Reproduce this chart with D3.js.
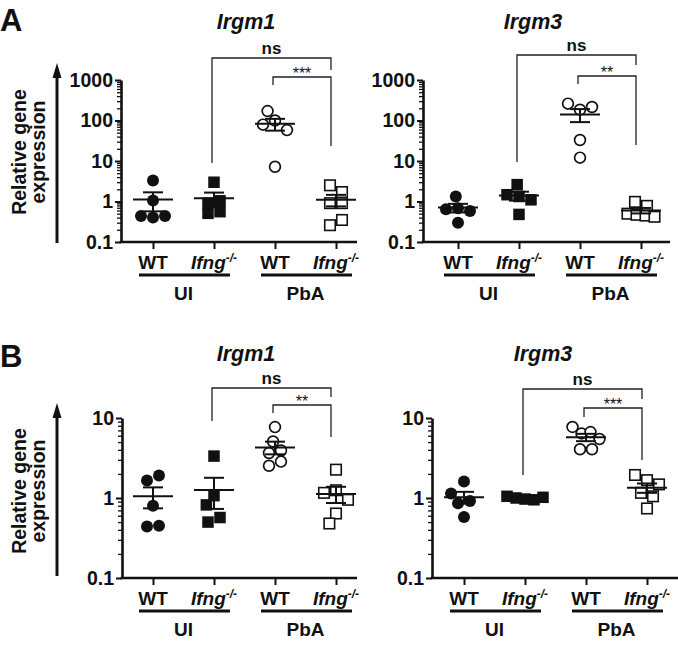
<!DOCTYPE html>
<html><head><meta charset="utf-8">
<script src="https://cdn.jsdelivr.net/npm/d3@7"></script>
<style>
body{margin:0;background:#fff;}
svg{display:block;}
text{font-family:"Liberation Sans",Arial,sans-serif;fill:#111;}
</style>
</head><body>
<svg id="chart" width="678" height="647"></svg>
<script>
// ---------------- DATA ----------------
const groupKeys = ["WT_UI", "Ifng_UI", "WT_PbA", "Ifng_PbA"];
const genotypeLabels = ["WT", "Ifng", "WT", "Ifng"];
const knockoutSuffix = "-/-";
const conditionLabels = ["UI", "PbA"];
const panelLetters = ["A", "B"];
const geneTitles = ["Irgm1", "Irgm3"];
const yLabelLines = ["Relative gene", "expression"];
const yTicksA = [0.1, 1, 10, 100, 1000];
const yTickLabelsA = ["0.1", "1", "10", "100", "1000"];
const yTicksB = [0.1, 1, 10];
const yTickLabelsB = ["0.1", "1", "10"];

const A_Irgm1_WT_UI   = [3.3, 1.06, 0.44, 0.40, 0.44];
const A_Irgm1_Ifng_UI = [2.99, 0.91, 1.04, 0.51, 0.56];
const A_Irgm1_WT_PbA  = [171, 79, 100, 58, 7.2];
const A_Irgm1_Ifng_PbA= [2.51, 1.71, 0.91, 0.91, 0.26, 0.35];
const A_Irgm3_WT_UI   = [1.33, 0.64, 0.68, 0.58, 0.30];
const A_Irgm3_Ifng_UI = [2.61, 1.47, 1.33, 1.10, 0.48];
const A_Irgm3_WT_PbA  = [261, 185, 215, 33, 12.1];
const A_Irgm3_Ifng_PbA= [0.98, 0.78, 0.50, 0.47, 0.45, 0.42];
const B_Irgm1_WT_UI   = [1.65, 1.91, 0.80, 0.44, 0.45];
const B_Irgm1_Ifng_UI = [3.34, 1.07, 0.82, 0.50, 0.57];
const B_Irgm1_WT_PbA  = [7.7, 5.08, 3.65, 3.92, 2.53, 2.85];
const B_Irgm1_Ifng_PbA= [2.26, 1.16, 1.25, 0.95, 0.64, 0.48];
const B_Irgm3_WT_UI   = [1.61, 1.14, 0.86, 0.92, 0.58];
const B_Irgm3_Ifng_UI = [1.05, 1.0, 0.97, 0.95, 1.02];
const B_Irgm3_WT_PbA  = [7.73, 6.41, 6.67, 5.47, 4.07, 4.07];
const B_Irgm3_Ifng_PbA= [1.94, 1.67, 1.48, 1.16, 1.05, 0.74];

const stats_A_Irgm1 = ["ns", "***"];
const stats_A_Irgm3 = ["ns", "**"];
const stats_B_Irgm1 = ["ns", "**"];
const stats_B_Irgm3 = ["ns", "***"];

// ---------------- LAYOUT ----------------
const svg = d3.select("#chart");
const STEP = 61;
const SEP = 12;

const panels = [
  {title: geneTitles[0], titleX: 246, titleY: 29,
   data: [A_Irgm1_WT_UI, A_Irgm1_Ifng_UI, A_Irgm1_WT_PbA, A_Irgm1_Ifng_PbA],
   yTicks: yTicksA, yTickLabels: yTickLabelsA, yRange: [242, 80],
   axisX: 121, xEnd: 357, x0: 153, stats: stats_A_Irgm1,
   br: [{top: 58, le: 163, re: 70}, {top: 77, le: 85, re: 146}]},
  {title: geneTitles[1], titleX: 533, titleY: 29,
   data: [A_Irgm3_WT_UI, A_Irgm3_Ifng_UI, A_Irgm3_WT_PbA, A_Irgm3_Ifng_PbA],
   yTicks: yTicksA, yTickLabels: yTickLabelsA, yRange: [242, 80],
   axisX: 423, xEnd: 670, x0: 458, stats: stats_A_Irgm3,
   br: [{top: 55, le: 162, re: 65}, {top: 76, le: 84, re: 145}]},
  {title: geneTitles[0], titleX: 246, titleY: 361,
   data: [B_Irgm1_WT_UI, B_Irgm1_Ifng_UI, B_Irgm1_WT_PbA, B_Irgm1_Ifng_PbA],
   yTicks: yTicksB, yTickLabels: yTickLabelsB, yRange: [578, 418],
   axisX: 122, xEnd: 357, x0: 153, stats: stats_B_Irgm1,
   br: [{top: 388, le: 421, re: 397}, {top: 405, le: 413, re: 437}]},
  {title: geneTitles[1], titleX: 543, titleY: 361,
   data: [B_Irgm3_WT_UI, B_Irgm3_Ifng_UI, B_Irgm3_WT_PbA, B_Irgm3_Ifng_PbA],
   yTicks: yTicksB, yTickLabels: yTickLabelsB, yRange: [578, 418],
   axisX: 432, xEnd: 678, x0: 464, stats: stats_B_Irgm3,
   br: [{top: 389, le: 475, re: 399}, {top: 408, le: 417, re: 460}]}
];

// scatter layout: near-equal values form centred rows, the rest are swarmed
function swarm(vals, y, cx) {
  const pts = vals.map((v, i) => ({v, i, y: y(v)})).sort((a, b) => a.y - b.y);
  const rows = [];
  pts.forEach(p => {
    const last = rows[rows.length - 1];
    if (last && p.y - last[last.length - 1].y < 7) last.push(p); else rows.push([p]);
  });
  const placed = [];
  rows.filter(r => r.length > 1).forEach(r => {
    const sp = r.length <= 3 ? SEP : 9;
    r.sort((a, b) => a.i - b.i).forEach((p, k) => {
      p.x = cx + (k - (r.length - 1) / 2) * sp;
      placed.push(p);
    });
  });
  let side = 1;
  rows.filter(r => r.length === 1).forEach(r => {
    const p = r[0];
    const cands = [cx];
    placed.forEach(q => {
      const dy = Math.abs(q.y - p.y);
      if (dy < SEP) {
        const dx = Math.sqrt(SEP * SEP - dy * dy);
        cands.push(q.x - dx, q.x + dx);
      }
    });
    const ok = cands.filter(xx => placed.every(q => Math.hypot(q.x - xx, q.y - p.y) >= SEP - 0.01));
    ok.sort((a, b) => {
      const da = Math.abs(a - cx), db = Math.abs(b - cx);
      if (Math.abs(da - db) > 0.01) return da - db;
      return side * (a - b);
    });
    p.x = ok.length ? ok[0] : cx;
    if (p.x !== cx) side = -side;
    placed.push(p);
  });
  return placed;
}

function drawPanel(cfg) {
  const g = svg.append("g");
  const y = d3.scaleLog().domain([cfg.yTicks[0], cfg.yTicks[cfg.yTicks.length - 1]]).range(cfg.yRange);
  const x = d3.scalePoint().domain(groupKeys).range([cfg.x0, cfg.x0 + 3 * STEP]);
  const base = cfg.yRange[0];

  // minor ticks
  const minor = [];
  cfg.yTicks.slice(0, -1).forEach(d => { for (let k = 2; k <= 9; k++) minor.push(d * k); });
  const gMin = g.append("g").attr("transform", `translate(${cfg.axisX},0)`)
    .call(d3.axisLeft(y).tickValues(minor).tickFormat("").tickSize(4).tickSizeOuter(0));
  gMin.select(".domain").remove();
  gMin.selectAll("line").attr("stroke", "#111").attr("stroke-width", 1.3);

  const gY = g.append("g").attr("transform", `translate(${cfg.axisX},0)`)
    .call(d3.axisLeft(y).tickValues(cfg.yTicks).tickFormat((d, i) => cfg.yTickLabels[i]).tickSize(6).tickSizeOuter(0).tickPadding(2));
  gY.select(".domain").attr("stroke", "#111").attr("stroke-width", 2.6);
  gY.selectAll("line").attr("stroke", "#111").attr("stroke-width", 2);
  gY.selectAll("text").attr("font-family", '"Liberation Sans",Arial,sans-serif')
    .attr("font-size", 19.5).attr("font-weight", "bold").attr("fill", "#111");

  // x axis
  const gX = g.append("g").attr("transform", `translate(0,${base})`)
    .call(d3.axisBottom(x).tickFormat("").tickSize(7).tickSizeOuter(0));
  gX.select(".domain").remove();
  gX.selectAll("line").attr("stroke", "#111").attr("stroke-width", 2);
  g.append("line").attr("x1", cfg.axisX - 1.3).attr("x2", cfg.xEnd).attr("y1", base).attr("y2", base)
    .attr("stroke", "#111").attr("stroke-width", 2.6);

  // group labels
  groupKeys.forEach((k, i) => {
    const t = g.append("text").attr("x", x(k)).attr("y", base + 27).attr("text-anchor", "middle")
      .attr("font-size", 19).attr("font-weight", "bold");
    if (genotypeLabels[i] === "WT") {
      t.text(genotypeLabels[i]);
    } else {
      t.append("tspan").attr("font-style", "italic").text(genotypeLabels[i]);
      t.append("tspan").attr("font-style", "italic").attr("font-size", 12).attr("dy", -7).text(knockoutSuffix);
    }
  });
  conditionLabels.forEach((c, j) => {
    const a = x(groupKeys[2 * j]), b = x(groupKeys[2 * j + 1]);
    g.append("line").attr("x1", a - 14).attr("x2", b + 16).attr("y1", base + 33).attr("y2", base + 33)
      .attr("stroke", "#111").attr("stroke-width", 2.8);
    g.append("text").attr("x", (a + b) / 2).attr("y", base + 58).attr("text-anchor", "middle")
      .attr("font-size", 19).attr("font-weight", "bold").text(c);
  });

  // title
  g.append("text").attr("x", cfg.titleX).attr("y", cfg.titleY).attr("text-anchor", "middle")
    .attr("font-size", 21.5).attr("font-weight", "bold").attr("font-style", "italic").text(cfg.title);

  // points
  cfg.data.forEach((vals, i) => {
    const cx = x(groupKeys[i]);
    const pts = swarm(vals, y, cx);
    const filled = i < 2;
    const circle = i % 2 === 0;
    pts.forEach(p => {
      if (circle) {
        g.append("circle").attr("cx", p.x).attr("cy", p.y).attr("r", filled ? 6 : 5.4)
          .attr("fill", filled ? "#111" : "#fff").attr("stroke", "#111").attr("stroke-width", filled ? 0 : 1.7);
      } else {
        const s = filled ? 11.5 : 10.5;
        g.append("rect").attr("x", p.x - s / 2).attr("y", p.y - s / 2).attr("width", s).attr("height", s)
          .attr("fill", filled ? "#111" : "#fff").attr("stroke", "#111").attr("stroke-width", filled ? 0 : 1.6);
      }
    });
    // mean & SEM
    const m = d3.mean(vals);
    const sem = d3.deviation(vals) / Math.sqrt(vals.length);
    const lines = [
      [cx - 20, y(m), cx + 20, y(m)],
      [cx, y(m + sem), cx, y(Math.max(m - sem, cfg.yTicks[0]))],
      [cx - 10, y(m + sem), cx + 10, y(m + sem)],
      [cx - 10, y(m - sem), cx + 10, y(m - sem)]
    ];
    lines.forEach(l => g.append("line").attr("x1", l[0]).attr("y1", l[1]).attr("x2", l[2]).attr("y2", l[3])
      .attr("stroke", "#111").attr("stroke-width", 2));
  });

  // significance brackets
  const pairs = [[1, 3], [2, 3]];
  pairs.forEach((pr, j) => {
    const b = cfg.br[j];
    const xl = x(groupKeys[pr[0]]) - 2, xr = x(groupKeys[pr[1]]) - 5;
    g.append("path").attr("d", `M${xl},${b.le}V${b.top}H${xr}V${b.re}`)
      .attr("fill", "none").attr("stroke", "#222").attr("stroke-width", 1.3);
    const lab = cfg.stats[j];
    if (lab === "ns") {
      g.append("text").attr("x", (xl + xr) / 2).attr("y", b.top - 4).attr("text-anchor", "middle")
        .attr("font-size", 17).attr("font-weight", "bold").text(lab);
    } else {
      g.append("text").attr("x", (xl + xr) / 2).attr("y", b.top + 2).attr("text-anchor", "middle")
        .attr("font-size", 16).text(lab);
    }
  });
}

panels.forEach(drawPanel);

// panel letters, arrows, y labels
const rowInfo = [{letterY: 31, top: 63, bottom: 243, cy: 152}, {letterY: 367, top: 403, bottom: 576, cy: 491}];
rowInfo.forEach((r, i) => {
  svg.append("text").attr("x", 0).attr("y", r.letterY).attr("font-size", 31).attr("font-weight", "bold").text(panelLetters[i]);
  svg.append("line").attr("x1", 57).attr("x2", 57).attr("y1", r.bottom).attr("y2", r.top + 10)
    .attr("stroke", "#111").attr("stroke-width", 3);
  svg.append("path").attr("d", `M57,${r.top}L52.5,${r.top + 15}L61.5,${r.top + 15}Z`).attr("fill", "#111");
  yLabelLines.forEach((ln, j) => {
    svg.append("text").attr("transform", `translate(${j === 0 ? 26 : 45},${r.cy}) rotate(-90)`)
      .attr("text-anchor", "middle").attr("font-size", 19.5).attr("font-weight", "bold").text(ln);
  });
});
</script>
</body></html>
